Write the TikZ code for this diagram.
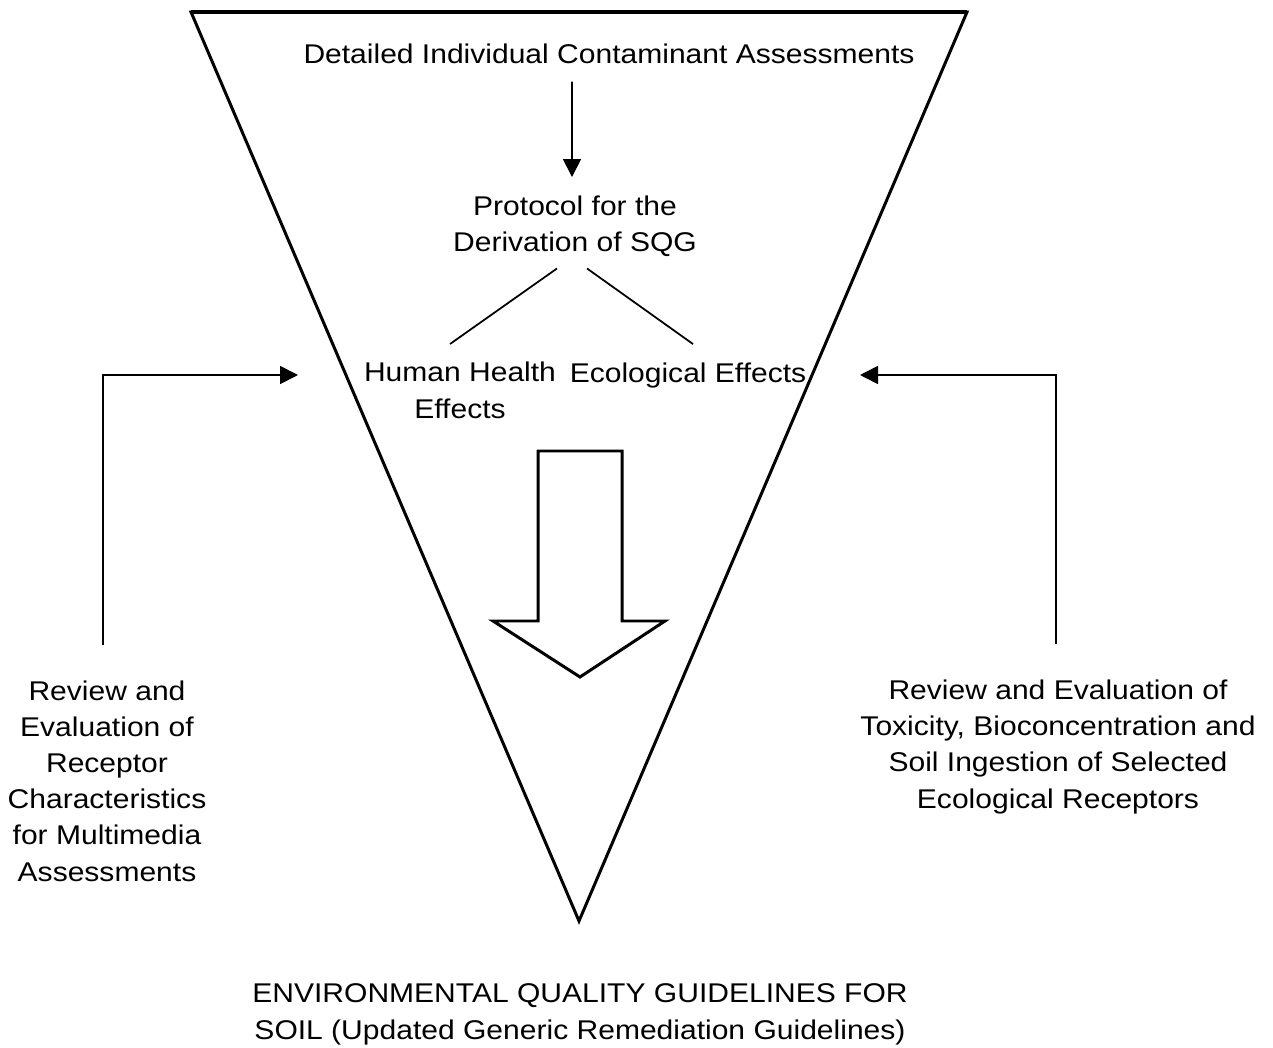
\documentclass[tikz,border=0pt]{standalone}
\usepackage{fontspec}
\setmainfont{Liberation Sans}[FakeStretch=1.11]
\usetikzlibrary{arrows.meta}

\begin{document}
\begin{tikzpicture}[x=0.02cm, y=-0.02cm,
  txt/.style = {inner sep=0pt, anchor=base, align=center, font=\fontsize{15.4pt}{20.5pt}\selectfont},
  arr/.style = {line width=1pt, -{Triangle[length=0.36cm, width=0.36cm]}},
  link/.style = {line width=1pt}]
\def\funnel{(191,12) -- (967,12) -- (579,921) -- cycle}
\def\bigarrow{(538,451) -- (622,451) -- (622,621) -- (665,621) -- (580,677) -- (493,621) -- (538,621) -- cycle}
\useasboundingbox (0,0) rectangle (1273,1047);
\draw[line width=1.7pt, line join=miter] \funnel;
\draw[line width=2.6pt] (191,12) -- (967,12);
\draw[line width=1.7pt, line join=miter] \bigarrow;
\node[txt] (detail) at (609,64) {Detailed Individual Contaminant Assessments};
\node[txt] (prot) at (575,252) {Protocol for the\\Derivation of SQG};
\node[txt] (hh) at (460,418) {Human Health\\Effects};
\node[txt] (eco) at (688,382) {Ecological Effects};
\node[txt] (lrev) at (107,881) {Review and\\Evaluation of\\Receptor\\Characteristics\\for Multimedia\\Assessments};
\node[txt] (rrev) at (1058,808) {Review and Evaluation of\\Toxicity, Bioconcentration and\\Soil Ingestion of Selected\\Ecological Receptors};
\node[txt] (eqg) at (580,1039) {ENVIRONMENTAL QUALITY GUIDELINES FOR\\SOIL (Updated Generic Remediation Guidelines)};
\coordinate (hhin) at (298,375);
\coordinate (ecoin) at (860,375);
\draw[arr] ([xshift=-0.06cm]prot.north |- detail.south) ++(0,17) -- ([shift={(-3,-19)}]prot.north);
\draw[link] ([shift={(-18,11)}]prot.south) -- ([shift={(-10,-18)}]hh.north);
\draw[link] ([shift={(12,11)}]prot.south) -- ([shift={(5,-18)}]eco.north);
\draw[arr] ([shift={(-4,-36)}]lrev.north) |- (hhin);
\draw[arr] ([shift={(-2,-36)}]rrev.north) |- (ecoin);
\end{tikzpicture}
\end{document}
